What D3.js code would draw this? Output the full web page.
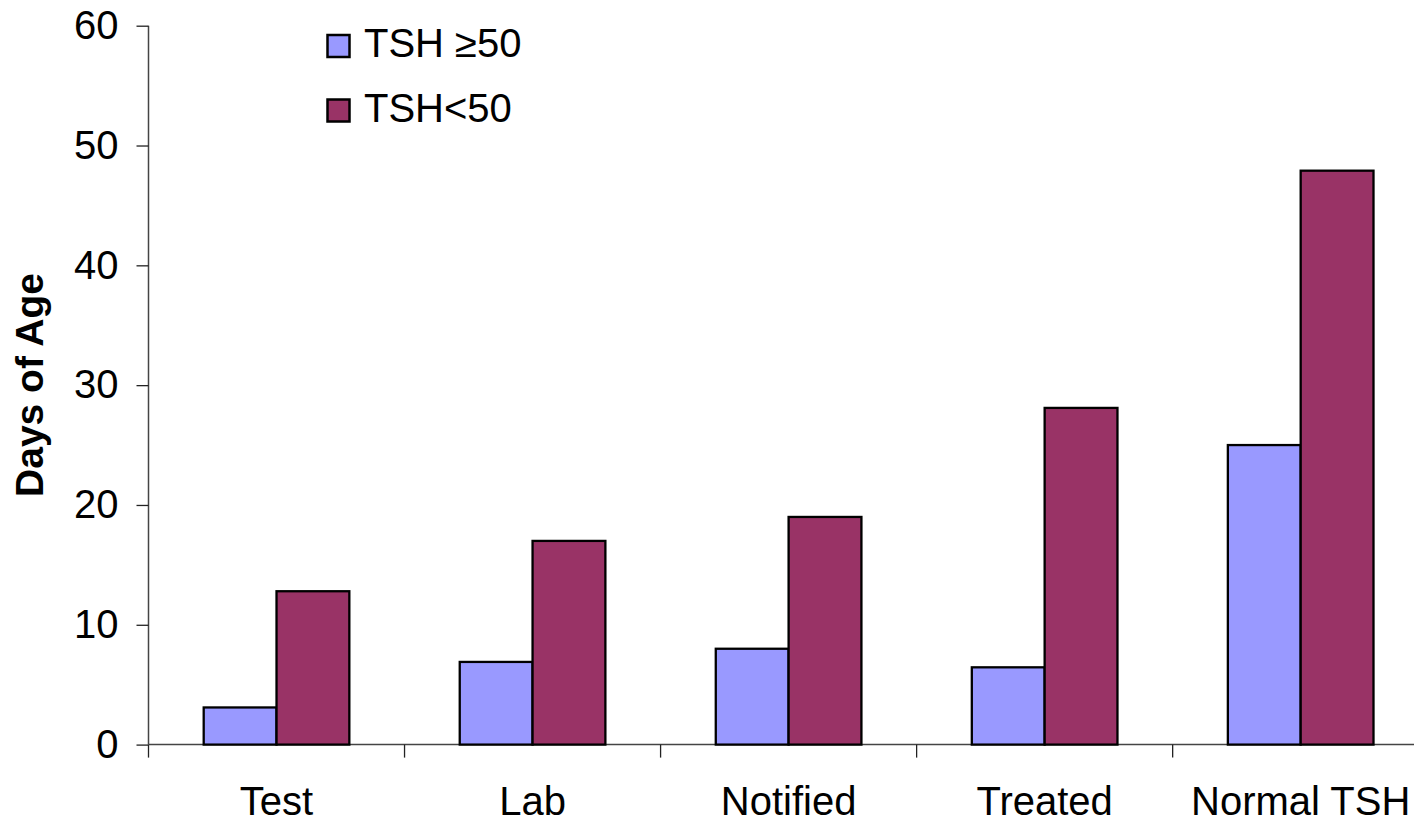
<!DOCTYPE html>
<html>
<head>
<meta charset="utf-8">
<script src="https://cdn.jsdelivr.net/npm/d3@7"></script>
<style>
  html, body { margin: 0; padding: 0; background: #fff; overflow: hidden; }
  svg { display: block; font-family: "Liberation Sans", Arial, sans-serif; }
</style>
</head>
<body>
<svg id="chart" width="1414" height="820"></svg>
<script>
const categories = ["Test", "Lab", "Notified", "Treated", "Normal TSH"];
const seriesNames = ["TSH \u226550", "TSH<50"];
const tshHigh = [3.1, 6.9, 8, 6.45, 25];
const tshLow = [12.8, 17, 19, 28.1, 47.9];
const yTicks = [0, 10, 20, 30, 40, 50, 60];
const colors = ["#9999FF", "#993366"];

(function () {
const svg = d3.select("#chart");
const mLeft = 148.5, mRight = 1428.7, mTop = 25.7, mBottom = 744.6;

const x0 = d3.scaleBand().domain(categories).range([mLeft, mRight]).paddingInner(0).paddingOuter(0);
const x1 = d3.scaleBand().domain(seriesNames).range([0, x0.bandwidth()]).paddingInner(0).paddingOuter(0.758);
const y = d3.scaleLinear().domain([0, 60]).range([mBottom, mTop]);

const data = categories.map((c, i) => ({ cat: c, vals: [tshHigh[i], tshLow[i]] }));

// Y axis
const yAxis = d3.axisLeft(y).tickValues(yTicks).tickSize(12).tickPadding(18);
const gy = svg.append("g").attr("transform", `translate(${mLeft},0)`).call(yAxis);
gy.select(".domain").attr("stroke", "#444").attr("stroke-width", 1.5).attr("d", `M0,${mTop}V${mBottom}`);
gy.selectAll(".tick line").attr("stroke", "#222").attr("stroke-width", 1.3);
gy.selectAll(".tick text").attr("font-size", 40).attr("fill", "#000").attr("font-family", "Liberation Sans, Arial, sans-serif");

// X axis (category boundary ticks)
const boundaries = categories.map(c => x0(c)).concat([x0(categories[categories.length - 1]) + x0.bandwidth()]);
const gx = svg.append("g");
gx.append("line").attr("x1", mLeft).attr("x2", mRight).attr("y1", mBottom).attr("y2", mBottom)
  .attr("stroke", "#444").attr("stroke-width", 1.5);
gx.selectAll("line.bt").data(boundaries).enter().append("line").attr("class", "bt")
  .attr("x1", d => d).attr("x2", d => d).attr("y1", mBottom).attr("y2", mBottom + 13)
  .attr("stroke", "#222").attr("stroke-width", 1.3);
gx.selectAll("text.cl").data(categories).enter().append("text").attr("class", "cl")
  .attr("x", d => x0(d) + x0.bandwidth() / 2).attr("y", 815)
  .attr("text-anchor", "middle").attr("font-size", 40).attr("fill", "#000")
  .text(d => d);

// Bars
const groups = svg.selectAll("g.grp").data(data).enter().append("g").attr("class", "grp")
  .attr("transform", d => `translate(${x0(d.cat)},0)`);
groups.selectAll("rect").data(d => d.vals.map((v, j) => ({ s: seriesNames[j], v, j }))).enter().append("rect")
  .attr("x", d => x1(d.s)).attr("width", x1.bandwidth())
  .attr("y", d => y(d.v)).attr("height", d => y(0) - y(d.v))
  .attr("fill", d => colors[d.j]).attr("stroke", "#000").attr("stroke-width", 2.3);

// Y axis title
svg.append("text").attr("transform", "translate(43,385) rotate(-90)")
  .attr("text-anchor", "middle").attr("font-size", 39).attr("font-weight", "bold").attr("fill", "#000")
  .text("Days of Age");

// Legend
const leg = svg.append("g");
const legY = [35, 99.5];
const legBase = [57, 121.5];
seriesNames.forEach((s, j) => {
  leg.append("rect").attr("x", 327.5).attr("y", legY[j]).attr("width", 22).attr("height", 22)
    .attr("fill", colors[j]).attr("stroke", "#000").attr("stroke-width", 2.5);
  leg.append("text").attr("x", 364).attr("y", legBase[j]).attr("font-size", 40).attr("fill", "#000").text(s);
});
})();
</script>
</body>
</html>
